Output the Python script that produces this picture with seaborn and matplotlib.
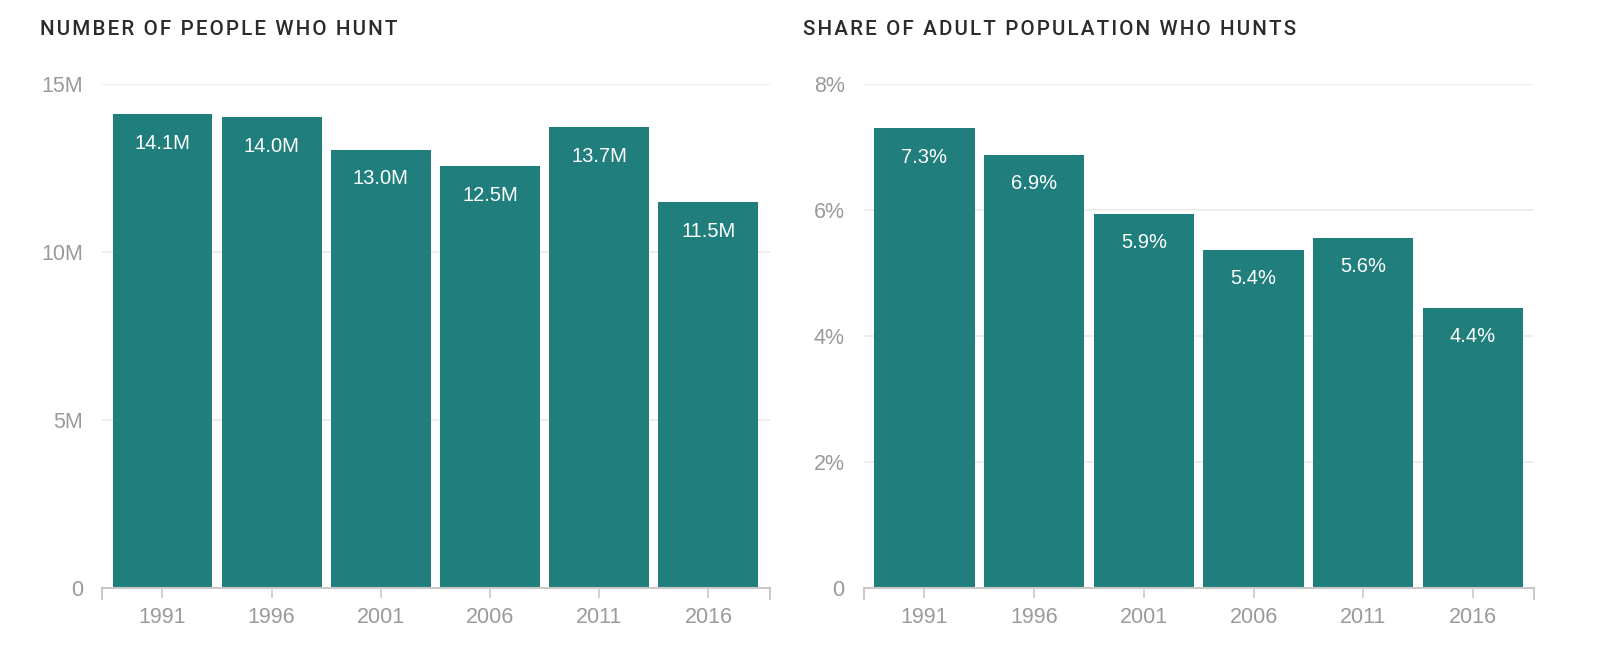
import matplotlib
matplotlib.use("Agg")
import matplotlib.pyplot as plt
import seaborn as sns
import pandas as pd

years = ['1991', '1996', '2001', '2006', '2011', '2016']
hunters_m = [14.09, 14.0, 13.03, 12.54, 13.7, 11.47]
share_pct = [7.29, 6.87, 5.93, 5.36, 5.56, 4.44]

bar_color = '#207f7c'
grid_color = '#ebebeb'
axis_color = '#c8c8c8'
tick_color = '#9a9a9a'

sns.set_theme(style='white')
plt.rcParams['font.family'] = ['Liberation Sans', 'DejaVu Sans']

df = pd.DataFrame({'year': years, 'hunters': hunters_m, 'share': share_pct})

fig = plt.figure(figsize=(16, 6.54), dpi=100)
ax1 = fig.add_axes([0.064, 0.101, 0.417, 0.771])
ax2 = fig.add_axes([0.540, 0.101, 0.419, 0.771])


def tracked(s):
    # loose letter spacing for the titles
    return '\u200a'.join(s)


def style_axis(ax, col, ymax, ticks, ticklabels, title, fmt, title_x):
    sns.barplot(data=df, x='year', y=col, color=bar_color, saturation=1,
                width=0.915, ax=ax, edgecolor='none')
    ax.set_xlim(-0.55, 5.56)
    ax.set_ylim(0, ymax)
    ax.set_yticks(ticks)
    ax.set_yticklabels(ticklabels)
    ax.set_xlabel('')
    ax.set_ylabel('')
    for t in ticks[1:]:
        ax.axhline(t, color=grid_color, lw=1.2, zorder=0)
    for s in ['top', 'right', 'left']:
        ax.spines[s].set_visible(False)
    ax.spines['bottom'].set_color(axis_color)
    ax.spines['bottom'].set_linewidth(1.5)
    ax.tick_params(axis='y', length=0, labelsize=15.5, labelcolor=tick_color, pad=14)
    ax.tick_params(axis='x', length=7, width=1.2, color=axis_color, direction='out',
                   labelsize=15.5, labelcolor=tick_color, pad=7, bottom=True)
    for xe in ax.get_xlim():
        ax.plot([xe, xe], [0, -ymax * 0.022], color=axis_color, lw=1.5,
                clip_on=False)
    for i, v in enumerate(df[col]):
        ax.text(i, v - ymax * 0.057, fmt.format(v), ha='center', va='center',
                color='white', fontsize=14.5)
    fig.text(title_x, 0.955, tracked(title), ha='left', va='center', fontsize=14.9,
             color='#2b2b2b', family=['Roboto', 'DejaVu Sans'], fontweight='medium')


style_axis(ax1, 'hunters', 15, [0, 5, 10, 15], ['0', '5M', '10M', '15M'],
           'NUMBER OF PEOPLE WHO HUNT', '{:.1f}M', 0.025)
style_axis(ax2, 'share', 8, [0, 2, 4, 6, 8], ['0', '2%', '4%', '6%', '8%'],
           'SHARE OF ADULT POPULATION WHO HUNTS', '{:.1f}%', 0.502)

fig.savefig('out.png', dpi=100, facecolor='white')
